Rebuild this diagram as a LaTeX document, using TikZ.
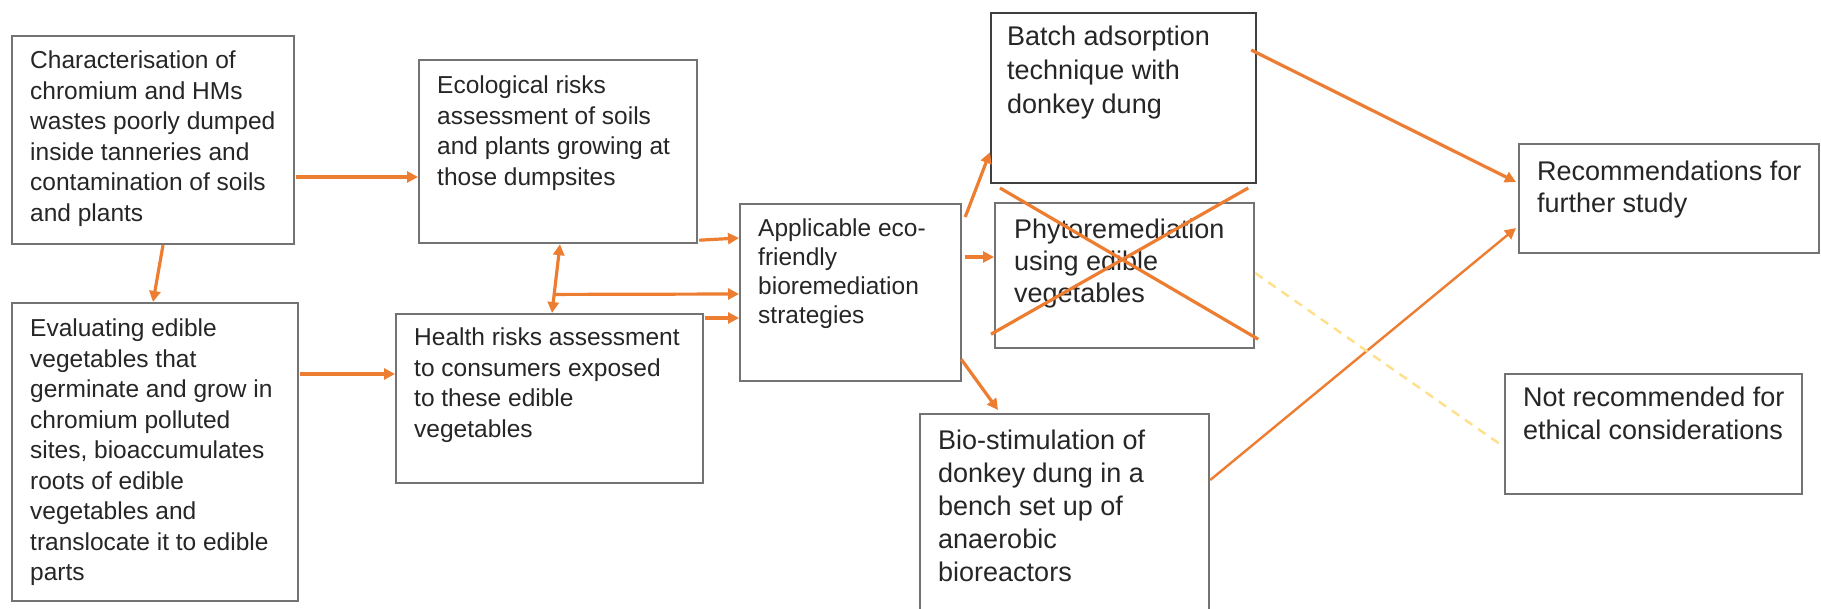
\documentclass[tikz,border=0pt]{standalone}
\usepackage{fontspec}
\setmainfont{Liberation Sans}
\usetikzlibrary{arrows.meta,calc}
\definecolor{org}{HTML}{ED7D31}
\definecolor{bord}{HTML}{737373}
\definecolor{bordd}{HTML}{3F3F3F}
\definecolor{txtc}{HTML}{262626}
\definecolor{dashc}{HTML}{FFE08A}
\tikzset{
  box/.style={draw=bord, line width=2.2pt, inner sep=0pt, anchor=north west},
  txtL/.style={anchor=north west, inner sep=0pt, align=left, text=txtc, font=\fontsize{24.5pt}{30.5pt}\selectfont},
  txtR/.style={anchor=north west, inner sep=0pt, align=left, text=txtc, font=\fontsize{27pt}{33pt}\selectfont},
  tip/.style={-{Triangle[length=11pt,width=11pt]}},
  arr/.style={draw=org, line width=3.2pt, tip},
  thinarr/.style={draw=org, line width=2.4pt, -{Triangle[length=11pt,width=11pt]}},
  crossline/.style={draw=org, line width=3.2pt},
  dashline/.style={draw=dashc, line width=2.4pt, dash pattern=on 9pt off 7pt}
}
\begin{document}
\begin{tikzpicture}[x=1pt,y=-1pt]
\useasboundingbox (0,0) rectangle (1821,608);
\fill[white] (0,0) rectangle (1821,608);
% boxes
\node[box, minimum width=282pt, minimum height=208pt] (b1) at (11,35) {};
\node[box, minimum width=286pt, minimum height=298pt] (b2) at (11,302) {};
\node[box, minimum width=278pt, minimum height=183pt] (b3) at (418,59) {};
\node[box, minimum width=307pt, minimum height=169pt] (b4) at (395,313) {};
\node[box, minimum width=221pt, minimum height=177pt] (b5) at (739,203) {};
\node[box, draw=bordd, minimum width=265pt, minimum height=170pt] (b6) at (990,12) {};
\node[box, minimum width=259pt, minimum height=145pt] (b7) at (994,202) {};
\node[box, minimum width=289pt, minimum height=207pt] (b8) at (919,413) {};
\node[box, minimum width=300pt, minimum height=109pt] (b9) at (1518,143) {};
\node[box, minimum width=297pt, minimum height=120pt] (b10) at (1504,373) {};
% texts
\node[txtL] (b1t) at (30,51) {Characterisation of\\chromium and HMs\\wastes poorly dumped\\inside tanneries and\\contamination of soils\\and plants};
\node[txtL] (b2t) at (30,319) {Evaluating edible\\vegetables that\\germinate and grow in\\chromium polluted\\sites, bioaccumulates\\roots of edible\\vegetables and\\translocate it to edible\\parts};
\node[txtL] (b3t) at (437,76) {Ecological risks\\assessment of soils\\and plants growing at\\those dumpsites};
\node[txtL] (b4t) at (414,328) {Health risks assessment\\to consumers exposed\\to these edible\\vegetables};
\node[txtL, font=\fontsize{24.5pt}{29pt}\selectfont] (b5t) at (758,219) {Applicable eco-\\friendly\\bioremediation\\strategies};
\node[txtR, font=\fontsize{27pt}{34pt}\selectfont] (b6t) at (1007,26) {Batch adsorption\\technique with\\donkey dung};
\node[txtR, font=\fontsize{27pt}{32pt}\selectfont] (b7t) at (1014,219) {Phytoremediation\\using edible\\vegetables};
\node[txtR] (b8t) at (938,430) {Bio-stimulation of\\donkey dung in a\\bench set up of\\anaerobic\\bioreactors};
\node[txtR, font=\fontsize{27pt}{32pt}\selectfont] (b9t) at (1537,161) {Recommendations for\\further study};
\node[txtR] (b10t) at (1523,387) {Not recommended for\\ethical considerations};
% connectors
\draw[arr] ($(b1.north east)+(1,142)$) -- ($(b3.north west)+(0,118)$);
\draw[arr] ($(b2.north east)+(1,72)$) -- ($(b4.north west)+(0,61)$);
\draw[arr] ($(b1.south west)+(152,0)$) -- ($(b2.north west)+(142,0)$);
\coordinate (d1) at ($(b4.north west)+(157,0)$);
\coordinate (d2) at ($(b3.south west)+(142,0)$);
\draw[arr, {Triangle[length=11pt,width=11pt]}-{Triangle[length=11pt,width=11pt]}] (d1) -- (d2);
\draw[arr] ($(d1)!0.27!(d2)$) -- ($(b5.north west)+(0,91)$);
\draw[arr] ($(b3.south east)+(1,-4)$) -- ($(b5.north west)+(0,35)$);
\draw[arr] ($(b4.north east)+(1,5)$) -- ($(b5.north west)+(0,115)$);
\draw[arr] ($(b5.north east)+(3,14)$) -- ($(b6.south west)+(0,-32)$);
\draw[arr] ($(b5.north east)+(3,54)$) -- ($(b7.north west)+(0,55)$);
\draw[arr] ($(b5.south east)+(-1,-23)$) -- ($(b8.north west)+(79,-3)$);
\draw[arr] ($(b6.north east)+(-6,38)$) -- ($(b9.north west)+(-2,39)$);
\draw[thinarr] ($(b8.north east)+(0,67)$) -- ($(b9.north west)+(-2,85)$);
\draw[dashline] ($(b7.north east)+(0,71)$) -- ($(b10.north west)+(0,74)$);
% cross over phytoremediation
\draw[crossline] ($(b7.north west)+(6,-14)$) -- ($(b7.south east)+(3,-10)$);
\draw[crossline] ($(b7.north east)+(-7,-14)$) -- ($(b7.south west)+(-3,-15)$);
\end{tikzpicture}
\end{document}
